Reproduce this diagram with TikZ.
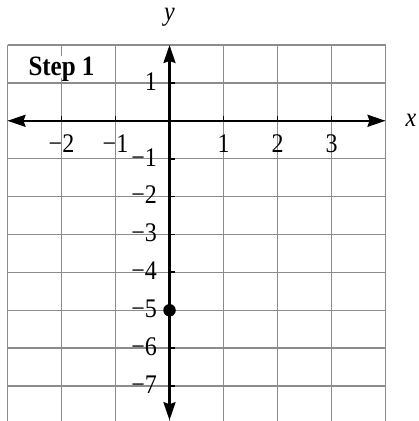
\documentclass[tikz,border=0pt]{standalone}
\usepackage{fontspec}
\usepackage{graphicx}
\setmainfont{Liberation Serif}
\usetikzlibrary{arrows.meta}
\newcommand\tallText[1]{\scalebox{1}[1.12]{#1}}
\begin{document}
\begin{tikzpicture}[x=54pt,y=37.9pt,
  gridline/.style={draw=black!45,line width=1.4pt},
  axisline/.style={draw=black,line width=2.3pt,
    {Stealth[length=18pt,width=12pt,inset=2pt]}-{Stealth[length=18pt,width=12pt,inset=2pt]}},
  tickmark/.style={draw=black,line width=1.8pt},
  ticklabel/.style={font=\fontsize{24}{28}\selectfont, inner sep=0pt},
  axislabel/.style={font=\fontsize{24}{28}\selectfont\itshape, inner sep=0pt},
  steplabel/.style={font=\fontsize{25}{30}\selectfont\bfseries, fill=white, inner sep=1pt, text depth=2pt},
  dotmark/.style={circle,fill=black,inner sep=0pt,minimum size=12.5pt}]
\useasboundingbox (-3.139,-7.921) rectangle (4.620,3.187);
% grid
\foreach \x in {-3,...,4} \draw[gridline] (\x,2) -- (\x,-7.95);
\foreach \y in {2,1,...,-7} \draw[gridline] (-3,\y) -- (4,\y);
% step label
\node[steplabel,anchor=base] (step) at (-2,1.2) {\tallText{Step 1}};
% axes
\coordinate (xl) at (-3,0);
\coordinate (xr) at (4,0);
\coordinate (yt) at (0,2);
\coordinate (yb) at (0,-7.9);
\draw[axisline] (xl) -- (xr);
\draw[axisline] (yb) -- (yt);
% x ticks
\foreach \x/\t in {-2/−2,-1/−1,1/1,2/2,3/3} {
  \draw[tickmark] (\x,0) -- ++(0,5pt);
  \node[ticklabel,anchor=north] (xt\x) at (\x,-0.35) {\tallText{\t}};
}
% y ticks
\foreach \y/\t in {1/1,-1/−1,-2/−2,-3/−3,-4/−4,-5/−5,-6/−6,-7/−7} {
  \draw[tickmark] (0,\y) -- ++(5pt,0);
  \node[ticklabel,anchor=east] (yt\y) at ([yshift=1.5pt]-0.23,\y) {\tallText{\t}};
}
% axis labels
\node[axislabel] (xlab) at (4.47,0) {\tallText{x}};
\node[axislabel] (ylab) at (0,2.74) {\tallText{y}};
% point
\node[dotmark] (pt) at (0,-5) {};
\end{tikzpicture}
\end{document}
